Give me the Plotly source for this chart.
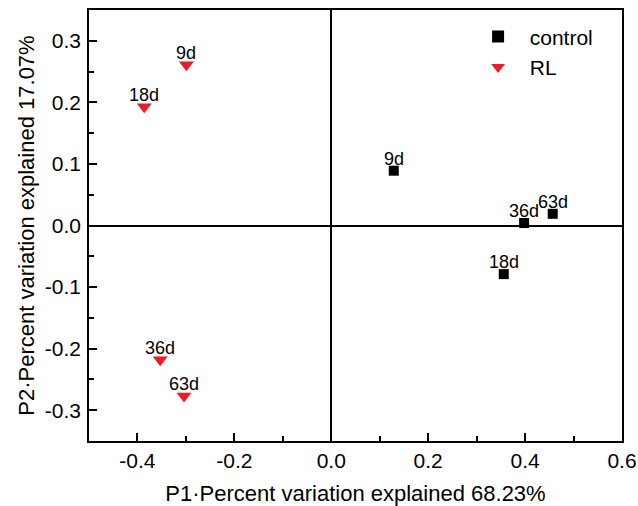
import plotly.graph_objects as go

days = ["9d", "18d", "36d", "63d"]
control_x = [0.129, 0.356, 0.398, 0.457]
control_y = [0.089, -0.079, 0.004, 0.019]
rl_x = [-0.299, -0.386, -0.353, -0.304]
rl_y = [0.261, 0.193, -0.218, -0.277]

x_ticks = [-0.4, -0.2, 0.0, 0.2, 0.4, 0.6]
y_ticks = [-0.3, -0.2, -0.1, 0.0, 0.1, 0.2, 0.3]

FONT = "Liberation Sans, Arial, sans-serif"

fig = go.Figure()
fig.add_trace(go.Scatter(
    x=control_x, y=control_y, mode="markers", name="\u00a0\u00a0control",
    marker=dict(symbol="square", size=10, color="black"),
))
fig.add_trace(go.Scatter(
    x=rl_x, y=rl_y, mode="markers", name="\u00a0\u00a0RL",
    marker=dict(symbol="triangle-down", size=13, color="#ed1c24"),
))

for xs, ys in ((control_x, control_y), (rl_x, rl_y)):
    for xv, yv, lab in zip(xs, ys, days):
        fig.add_annotation(x=xv, y=yv, text=lab, showarrow=False,
                           xanchor="center", yanchor="bottom", yshift=0,
                           font=dict(size=18, color="black", family=FONT))

axis_common = dict(
    showgrid=False, zeroline=True, zerolinecolor="black", zerolinewidth=1.5,
    showline=True, linecolor="black", linewidth=1.5, mirror=True,
    ticks="inside", ticklen=8, tickwidth=1.5, tickcolor="black",
    tickfont=dict(size=21, color="black", family=FONT),
    automargin=False,
)

fig.update_layout(
    width=638, height=506,
    margin=dict(l=89, r=16, t=10, b=65),
    paper_bgcolor="white", plot_bgcolor="white",
    font=dict(family=FONT, color="black"),
    xaxis=dict(range=[-0.5, 0.6], tickvals=x_ticks,
               ticktext=[f"{v:.1f}" for v in x_ticks],
               minor=dict(ticks="inside", dtick=0.1, tick0=0, ticklen=5, tickwidth=1.5, tickcolor="black"),
               title=dict(text="P1·Percent variation explained 68.23%", font=dict(size=22, family=FONT), standoff=22),
               **axis_common),
    yaxis=dict(range=[-0.35, 0.35], tickvals=y_ticks,
               ticktext=[f"{v:.1f}" for v in y_ticks],
               ticklabelstandoff=2,
               minor=dict(ticks="inside", dtick=0.05, tick0=0, ticklen=5, tickwidth=1.5, tickcolor="black"),
               title=dict(text="P2·Percent variation explained 17.07%", font=dict(size=22, family=FONT), standoff=4),
               **axis_common),
    legend=dict(x=0.73, y=0.985, xanchor="left", yanchor="top",
                font=dict(size=21, family=FONT), bgcolor="rgba(0,0,0,0)",
                tracegroupgap=0, itemsizing="constant"),
)

fig.write_html("out.html",
               config={"displayModeBar": False},
               post_script="document.body.style.margin='0';document.body.style.overflow='hidden';")
